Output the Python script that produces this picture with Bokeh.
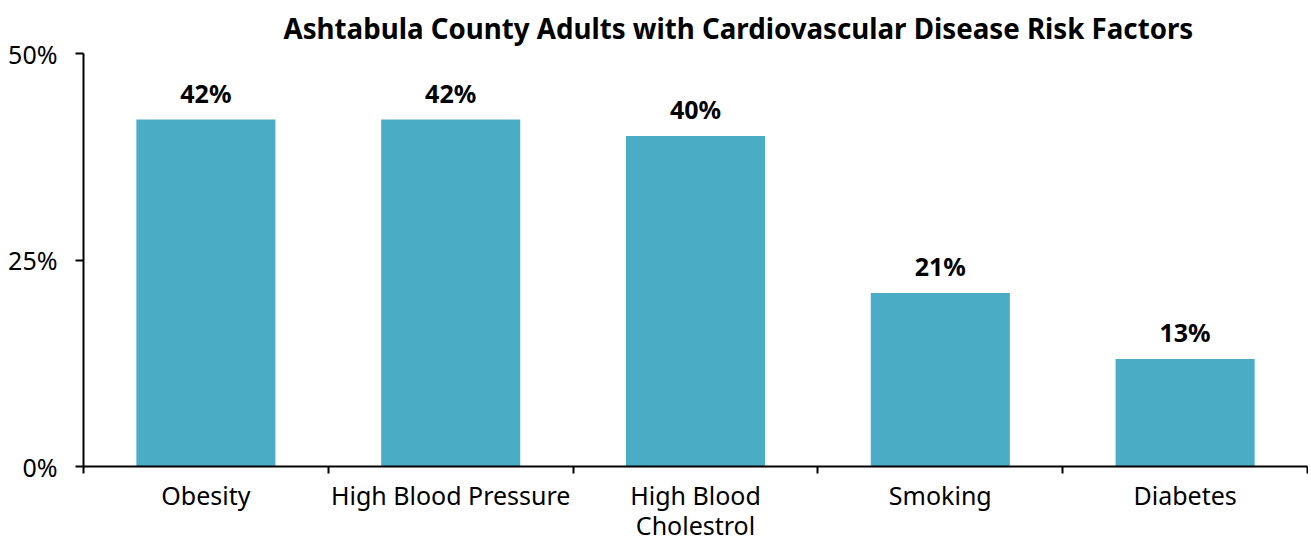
from bokeh.plotting import figure
from bokeh.models import (ColumnDataSource, FixedTicker, LabelSet, Range1d,
                          PrintfTickFormatter)
from bokeh.core.properties import value
from bokeh.embed import file_html
from bokeh.resources import INLINE

title = "Ashtabula County Adults with Cardiovascular Disease Risk Factors"
categories = ["Obesity", "High Blood Pressure", "High Blood\nCholestrol", "Smoking", "Diabetes"]
values = [42, 42, 40, 21, 13]
labels = ["42%", "42%", "40%", "21%", "13%"]
y_ticks = [0, 25, 50]

FONT = "Noto Sans"
BAR = "#4BACC6"

xs = [i + 0.5 for i in range(len(categories))]
src = ColumnDataSource(dict(x=xs, top=values, label=labels))

p = figure(width=1308, height=544, output_backend="svg", toolbar_location=None,
           x_range=Range1d(0, len(categories)), y_range=Range1d(0, 50),
           min_border_left=83, min_border_right=1, min_border_top=53,
           min_border_bottom=78)

p.vbar(x="x", top="top", width=0.568, source=src, color=BAR, line_color=None)

p.title.text = title
p.title.align = "left"
p.title.offset = 200
p.title.standoff = 10
p.title.vertical_align = "top"
p.title.text_font = FONT
p.title.text_font_size = "27.7px"
p.title.text_font_style = "bold"
p.title.text_color = "black"

p.add_layout(LabelSet(x="x", y="top", text="label", source=src, y_offset=17,
                      text_align="center", text_baseline="alphabetic",
                      text_font=value(FONT), text_font_size=value("25px"),
                      text_font_style="bold", text_color="black"))

p.xgrid.visible = False
p.ygrid.visible = False
p.outline_line_color = None

xa = p.xaxis[0]
xa.ticker = FixedTicker(ticks=xs, minor_ticks=list(range(len(categories) + 1)))
xa.major_label_overrides = {x: c for x, c in zip(xs, categories)}
xa.major_tick_line_color = None
xa.minor_tick_line_color = "black"
xa.minor_tick_out = 7
xa.minor_tick_in = 0
xa.minor_tick_line_width = 2
xa.axis_line_color = "black"
xa.axis_line_width = 2
xa.major_label_text_font = FONT
xa.major_label_text_font_size = "25px"
xa.major_label_text_color = "black"
xa.major_label_text_line_height = 0.89
xa.major_label_standoff = 4

ya = p.yaxis[0]
ya.ticker = FixedTicker(ticks=y_ticks, minor_ticks=[])
ya.formatter = PrintfTickFormatter(format="%d%%")
ya.major_tick_out = 8
ya.major_tick_in = 0
ya.major_tick_line_width = 2
ya.axis_line_width = 2
ya.axis_line_color = "black"
ya.major_label_text_font = FONT
ya.major_label_text_font_size = "25px"
ya.major_label_text_color = "black"
ya.major_label_standoff = 18

open("out.html", "w").write(file_html(p, INLINE))
